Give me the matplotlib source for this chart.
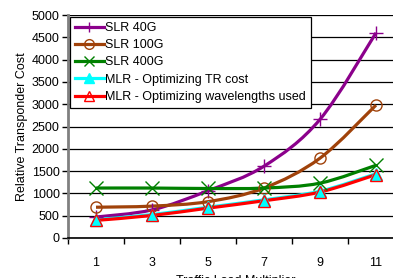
import matplotlib.pyplot as plt
import numpy as np
from matplotlib.path import Path
from matplotlib.patches import PathPatch
from matplotlib.lines import Line2D

plt.rcParams['font.family'] = ['Liberation Sans', 'DejaVu Sans']

loads = ["1", "3", "5", "7", "9", "11"]
slr_40g = [470, 630, 1060, 1610, 2660, 4600]
slr_100g = [690, 715, 815, 1120, 1790, 2980]
slr_400g = [1120, 1120, 1110, 1120, 1230, 1630]
mlr_tr = [410, 525, 690, 855, 1050, 1440]
mlr_wl = [395, 505, 670, 835, 1030, 1420]

series = [
    ("SLR 40G", slr_40g, "#8B008B", "+", "full"),
    ("SLR 100G", slr_100g, "#A0420A", "o", "none"),
    ("SLR 400G", slr_400g, "#008000", "x", "full"),
    ("MLR - Optimizing TR cost", mlr_tr, "#00FFFF", "^", "full"),
    ("MLR - Optimizing wavelengths used", mlr_wl, "#FF0000", "^", "none"),
]


def smooth_path(x, y, t=0.5):
    # Catmull-Rom style cubic bezier through the points (like Excel smoothing)
    x = np.asarray(x, float)
    y = np.asarray(y, float)
    n = len(x)
    verts = [(x[0], y[0])]
    codes = [Path.MOVETO]
    for i in range(n - 1):
        i0 = max(i - 1, 0)
        i3 = min(i + 2, n - 1)
        c1 = (x[i] + (x[i + 1] - x[i0]) * t / 3, y[i] + (y[i + 1] - y[i0]) * t / 3)
        c2 = (x[i + 1] - (x[i3] - x[i]) * t / 3, y[i + 1] - (y[i3] - y[i]) * t / 3)
        verts += [c1, c2, (x[i + 1], y[i + 1])]
        codes += [Path.CURVE4] * 3
    return Path(verts, codes)


fig = plt.figure(figsize=(3.93, 2.78), dpi=100)
ax = fig.add_axes([68 / 393, 40 / 278, 336 / 393, 223 / 278])

xs = np.arange(1, len(loads) + 1)
handles = []
for label, vals, color, marker, fill in series:
    ax.add_patch(PathPatch(smooth_path(xs, vals), facecolor="none",
                           edgecolor=color, lw=2.3, zorder=3))
    mfc = color if fill == "full" else "none"
    ms = {"+": 10, "x": 10, "o": 8, "^": 9}[marker]
    ax.plot(xs, vals, linestyle="none", marker=marker, ms=ms, mfc=mfc,
            mec=color, mew=1.0, zorder=4)
    handles.append(Line2D([], [], color=color, lw=2.3, marker=marker, ms=7,
                          mfc=mfc, mec=color, mew=1.0, label=label))

ax.set_xlim(0.5, 6.5)
ax.set_ylim(0, 5000)
ax.set_yticks(np.arange(0, 5001, 500))
ax.set_xticks(xs)
ax.set_xticklabels(loads)
ax.set_xticks(np.arange(0.5, 6.6, 1), minor=True)
ax.tick_params(axis="x", which="major", length=0, pad=14, labelsize=9)
ax.tick_params(axis="x", which="minor", length=4, width=1, color="black")
ax.tick_params(axis="y", length=4, width=1, color="black", labelsize=9, pad=2)
ax.yaxis.grid(True, color="black", lw=0.9)
ax.set_axisbelow(True)

for s in ["top", "right"]:
    ax.spines[s].set_visible(False)
ax.spines["left"].set_color("#808080")
ax.spines["left"].set_linewidth(2)
ax.spines["bottom"].set_color("black")
ax.spines["bottom"].set_linewidth(1.2)

ax.set_ylabel("Relative Transponder Cost", fontsize=9, labelpad=3)
ax.set_xlabel("Traffic Load Multiplier", fontsize=9, labelpad=4)

leg = ax.legend(handles=handles, loc="upper left", bbox_to_anchor=(0.006, 0.99),
                fontsize=9, frameon=True, fancybox=False, handlelength=2.3,
                handletextpad=0.15, labelspacing=0.42, borderpad=0.38,
                borderaxespad=0)
leg.get_frame().set_edgecolor("black")
leg.get_frame().set_linewidth(0.9)
leg.get_frame().set_alpha(1)

fig.savefig("out.png", dpi=100)
